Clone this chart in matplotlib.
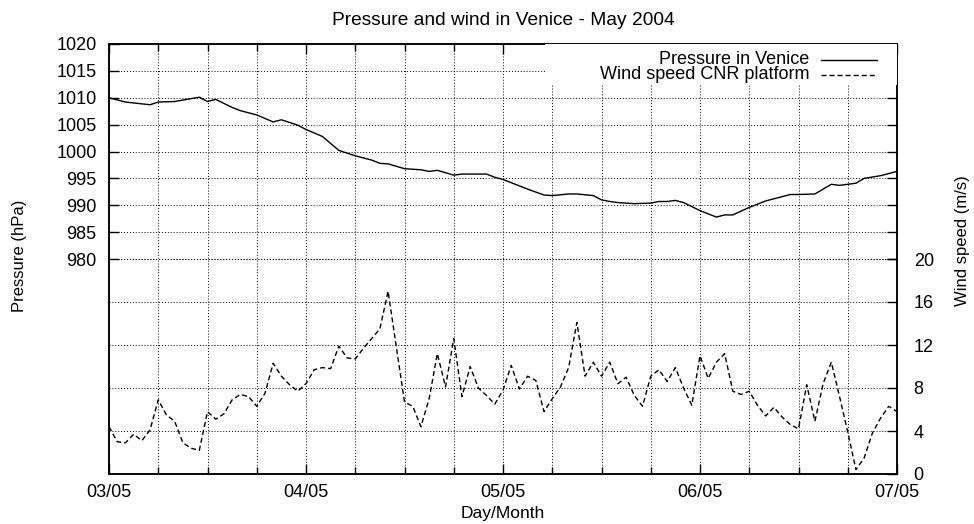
import matplotlib
matplotlib.use('Agg')
import matplotlib.pyplot as plt
import matplotlib.dates as mdates
import pandas as pd
from matplotlib.lines import Line2D
from matplotlib.patches import Rectangle

plt.rcParams['font.family'] = ['Liberation Sans', 'DejaVu Sans']
plt.rcParams['font.size'] = 13

# pressure in Venice (hours since 03/05 00:00, hPa)
p_hours = [0, 2, 5, 6, 8, 11, 12, 13, 15, 16, 18, 20, 21, 23, 24, 26, 27, 28,
           30, 32, 33, 34, 36, 38, 39, 40, 42, 43, 46, 47, 48, 51, 53, 54, 56,
           57, 59, 60, 61, 62, 64, 66, 67, 68, 69, 70, 72, 74, 75, 76, 78, 80,
           82, 83, 84, 86, 88, 89, 91, 92, 94, 96]
pressure = [1010.0, 1009.2, 1008.7, 1009.2, 1009.3, 1010.1, 1009.3, 1009.7,
            1008.2, 1007.6, 1006.8, 1005.5, 1005.9, 1004.9, 1004.1, 1002.8,
            1001.5, 1000.2, 999.2, 998.4, 997.8, 997.7, 996.8, 996.6, 996.3,
            996.5, 995.6, 995.8, 995.8, 995.2, 994.8, 993.0, 991.9, 991.8,
            992.1, 992.1, 991.8, 991.0, 990.7, 990.5, 990.3, 990.4, 990.7,
            990.7, 990.9, 990.5, 989.0, 987.8, 988.2, 988.2, 989.6, 990.8,
            991.6, 992.0, 992.0, 992.1, 993.9, 993.7, 994.1, 995.0, 995.5,
            996.3]

# wind speed at the CNR platform (hours, m/s)
w_hours = [0, 1, 2, 3, 4, 5, 6, 7, 8, 9, 10, 11, 12, 13, 14, 15, 16, 17, 18,
           19, 20, 21, 22, 23, 24, 25, 26, 27, 28, 29, 30, 31, 33, 34, 36, 37,
           38, 39, 40, 41, 42, 43, 44, 45, 46, 47, 48, 49, 50, 51, 52, 53, 54,
           55, 56, 57, 58, 59, 60, 61, 62, 63, 64, 65, 66, 67, 68, 69, 70, 71,
           72, 73, 74, 75, 76, 77, 78, 79, 80, 81, 82, 83, 84, 85, 86, 87, 88,
           89, 90, 91, 92, 93, 94, 95, 96]
wind = [4.4, 3.0, 2.9, 3.7, 3.1, 4.1, 6.9, 5.5, 4.9, 2.9, 2.4, 2.2, 5.8, 5.1,
        5.6, 6.9, 7.4, 7.2, 6.3, 7.5, 10.3, 9.1, 8.3, 7.7, 8.4, 9.7, 9.9, 9.8,
        11.9, 10.8, 10.7, 11.7, 13.5, 17.0, 6.7, 6.3, 4.4, 7.0, 11.2, 8.1,
        12.6, 7.2, 10.0, 8.0, 7.3, 6.5, 7.8, 10.1, 7.9, 9.1, 8.7, 5.8, 7.0,
        8.1, 9.9, 14.1, 9.1, 10.4, 9.1, 10.4, 8.4, 9.0, 7.3, 6.3, 9.1, 9.7,
        8.6, 9.9, 8.0, 6.4, 11.0, 8.9, 10.4, 11.2, 7.7, 7.4, 7.7, 6.4, 5.4,
        6.2, 5.3, 4.6, 4.2, 8.3, 4.9, 8.4, 10.4, 7.2, 3.9, 0.4, 1.5, 3.8, 5.2,
        6.3, 5.8]

start = pd.Timestamp('2004-05-03')
p_time = start + pd.to_timedelta(p_hours, unit='h')
w_time = start + pd.to_timedelta(w_hours, unit='h')

fig = plt.figure(figsize=(9.74, 5.24), dpi=100)
ax = fig.add_axes([109/974, 50/524, 788/974, 430/524])
ax2 = ax.twinx()

ax.plot(p_time, pressure, color='black', lw=1.0)
ax2.plot(w_time, wind, color='black', lw=1.0, dashes=(3.6, 2.2))

ax.set_xlim(start, start + pd.Timedelta(days=4))
ax.set_ylim(940, 1020)
ax2.set_ylim(0, 40)
ax.set_yticks(range(980, 1021, 5))
ax2.set_yticks(range(0, 21, 4))

ax.xaxis.set_major_locator(mdates.DayLocator())
ax.xaxis.set_minor_locator(mdates.HourLocator(byhour=[6, 12, 18]))
ax.xaxis.set_major_formatter(mdates.DateFormatter('%d/%m'))

ax.grid(True, axis='x', which='both', ls=(0, (1, 2)), color='black', lw=0.7)
ax.grid(True, axis='y', ls=(0, (1, 2)), color='black', lw=0.7)
ax2.grid(True, axis='y', ls=(0, (1, 2)), color='black', lw=0.7)

ax.tick_params(axis='both', which='both', direction='in', top=True, width=1)
ax.tick_params(axis='x', which='major', length=7, pad=7)
ax.tick_params(axis='x', which='minor', length=5)
ax.tick_params(axis='y', length=7, pad=9, right=True, labelright=False)
ax2.tick_params(axis='y', direction='in', length=7, pad=12, width=1)

for a in (ax, ax2):
    for s in a.spines.values():
        s.set_linewidth(1.1)

# key box hides the grid behind it
ax2.add_patch(Rectangle((0.553, 0.905), 0.447, 0.095, transform=ax2.transAxes,
                        facecolor='white', edgecolor='none', zorder=5))
ax2.text(0.889, 0.963, 'Pressure in Venice', transform=ax2.transAxes,
         ha='right', va='center', zorder=6)
ax2.text(0.889, 0.928, 'Wind speed CNR platform', transform=ax2.transAxes,
         ha='right', va='center', zorder=6)
ax2.add_line(Line2D([0.904, 0.974], [0.963, 0.963], transform=ax2.transAxes,
                    color='black', lw=1.0, zorder=6))
ax2.add_line(Line2D([0.904, 0.974], [0.928, 0.928], transform=ax2.transAxes,
                    color='black', lw=1.0, dashes=(3.6, 2.2), zorder=6))

ax.set_title('Pressure and wind in Venice - May 2004', fontsize=13.8, pad=14)
ax.set_xlabel('Day/Month', fontsize=12.5, labelpad=4)
fig.text(20/974, 1 - 256/524, 'Pressure (hPa)', rotation=90, fontsize=12,
         ha='center', va='center')
fig.text(963/974, 1 - 241/524, 'Wind speed (m/s)', rotation=90, fontsize=12,
         ha='center', va='center')

fig.savefig('out.png', dpi=100)
